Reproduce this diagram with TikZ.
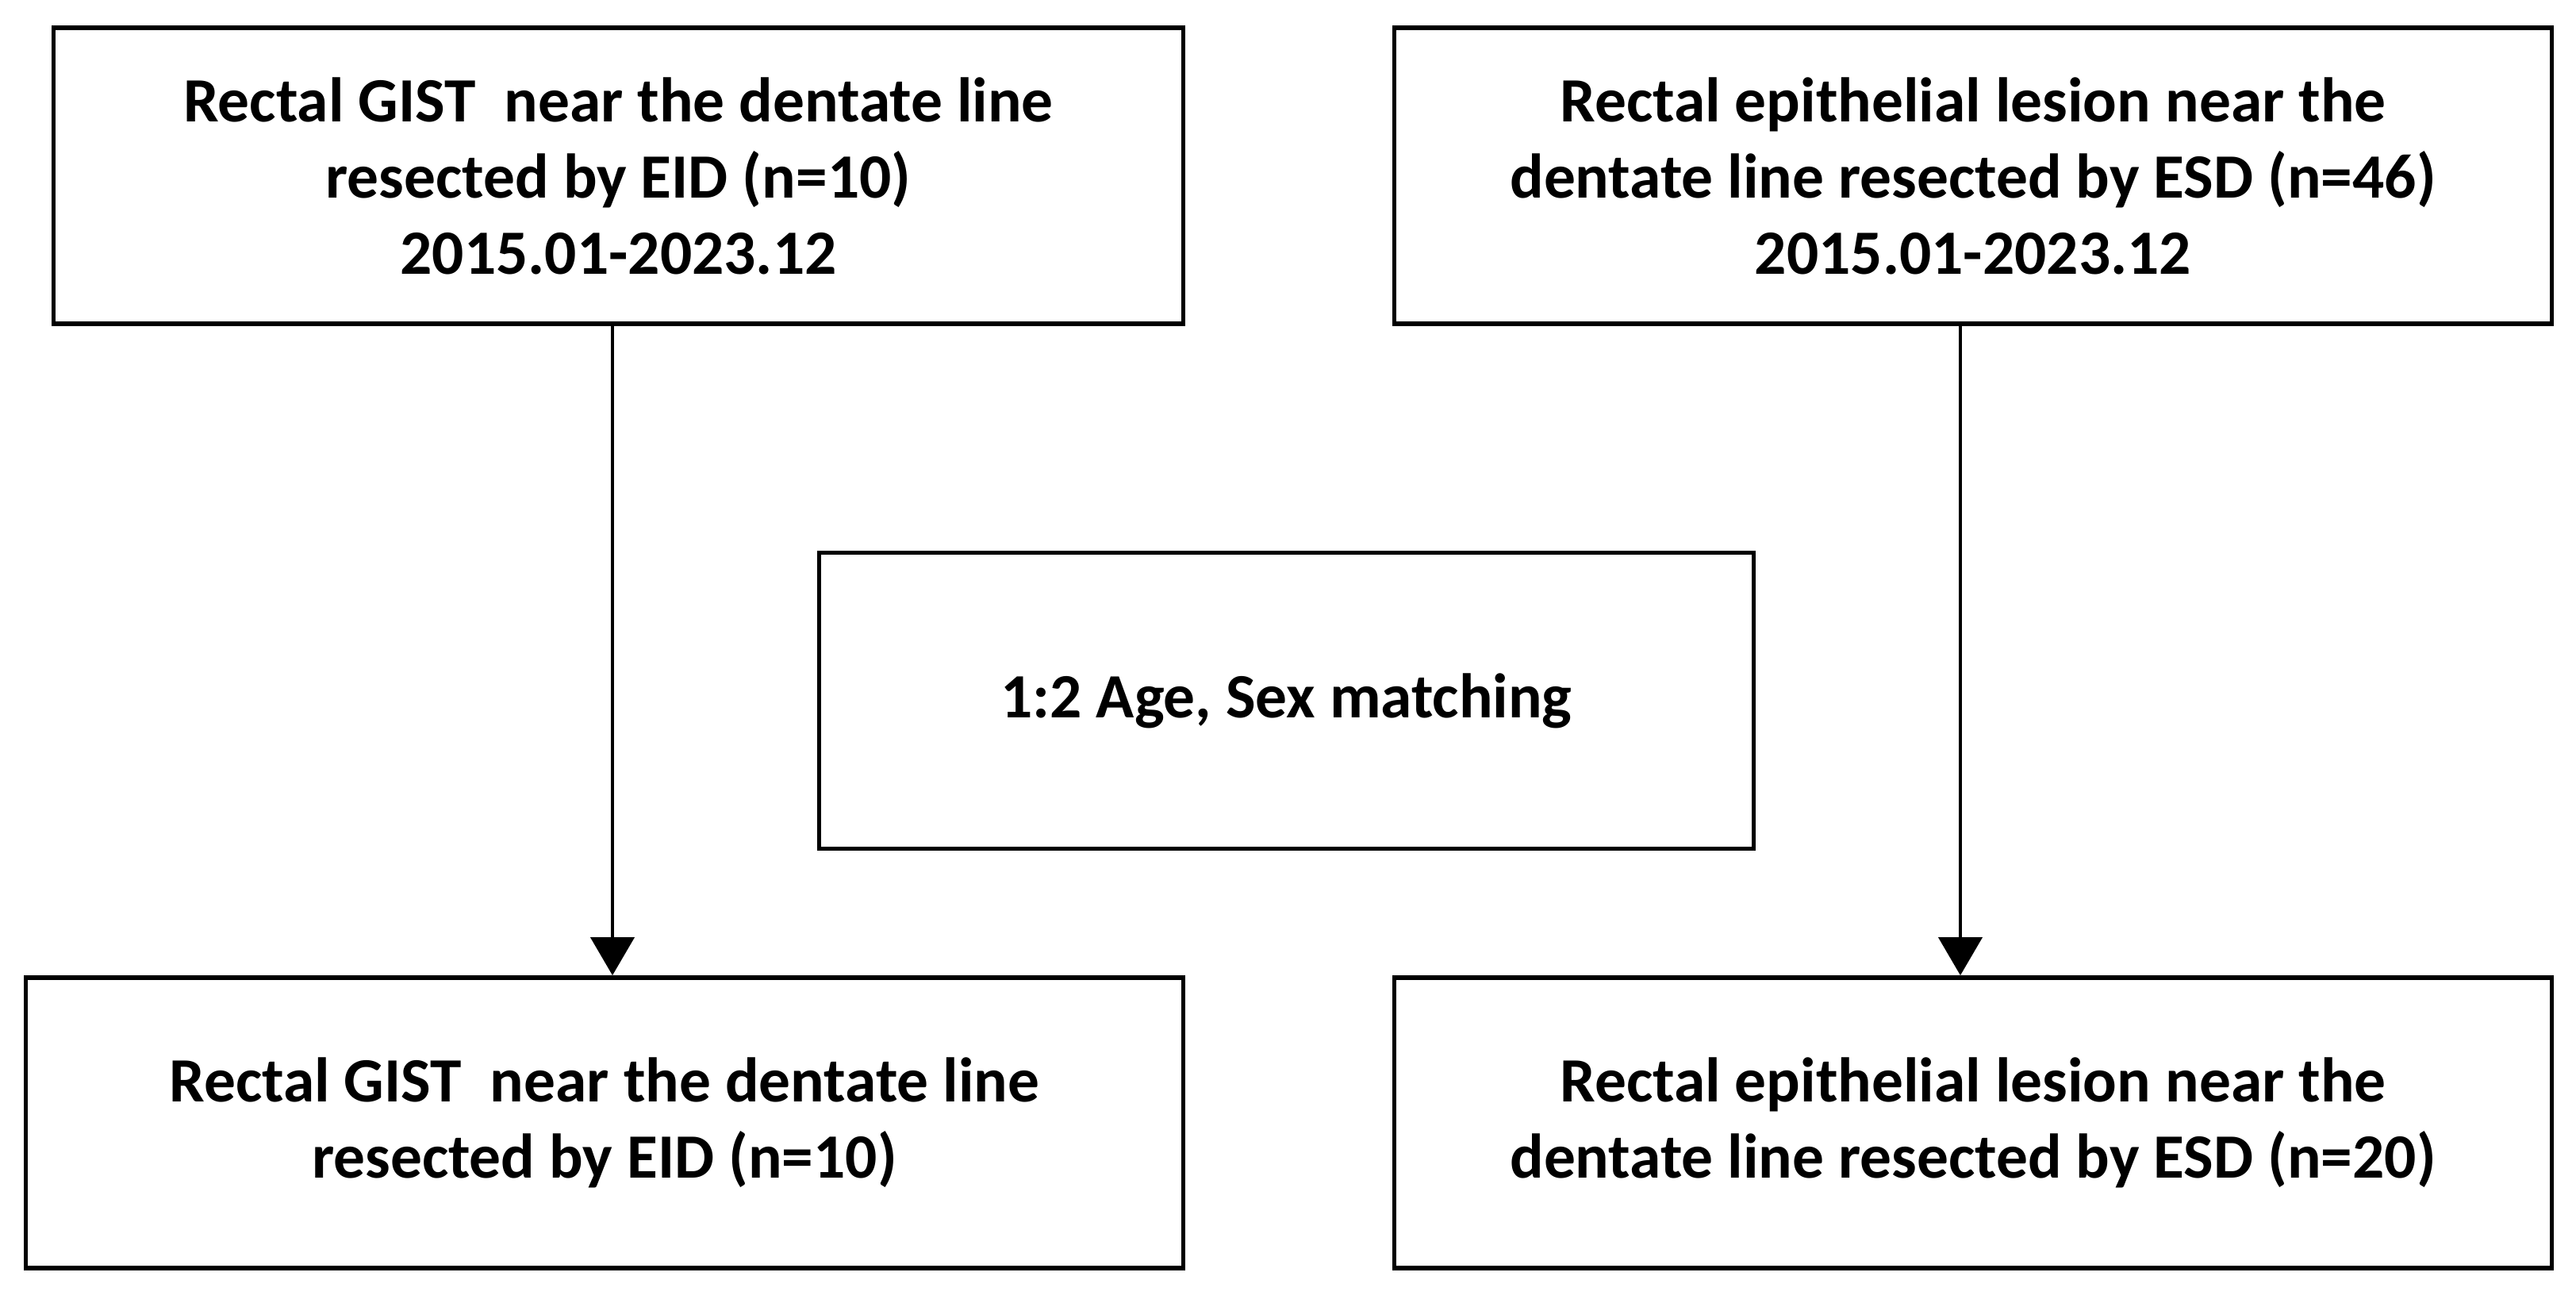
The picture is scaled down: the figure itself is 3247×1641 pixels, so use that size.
\documentclass[tikz,border=0pt]{standalone}
\usepackage{fontspec}
\setmainfont{Carlito}
\usetikzlibrary{arrows.meta}
\begin{document}
\begin{tikzpicture}[x=0.01cm,y=-0.01cm,
  flowbox/.style={draw=black,line width=1.6pt,fill=white,align=center,
    inner sep=0pt,font=\fontsize{22.6}{27.3}\selectfont\bfseries},
  flowarrow/.style={line width=1.2pt,-{Triangle[length=0.48cm,width=0.55cm]}}]
\useasboundingbox (0,0) rectangle (3247,1641);
\fill[white] (0,0) rectangle (3247,1641);
\node[flowbox,minimum width=14.23cm,minimum height=3.73cm] (tl) at (779.5,221.5)
  {Rectal GIST\ \ near the dentate line\\resected by EID (n=10)\\2015.01-2023.12};
\node[flowbox,minimum width=14.58cm,minimum height=3.73cm] (tr) at (2487,221.5)
  {Rectal epithelial lesion near the\\dentate line resected by ESD (n=46)\\2015.01-2023.12};
\node[flowbox,minimum width=11.77cm,minimum height=3.73cm] (mid) at (1621.5,883)
  {1:2 Age, Sex matching};
\node[flowbox,minimum width=14.58cm,minimum height=3.66cm] (bl) at (762,1415)
  {Rectal GIST\ \ near the dentate line\\resected by EID (n=10)};
\node[flowbox,minimum width=14.58cm,minimum height=3.66cm] (br) at (2487,1415)
  {Rectal epithelial lesion near the\\dentate line resected by ESD (n=20)};
\coordinate (la) at ([xshift=-0.075cm]tl.south);
\coordinate (ra) at ([xshift=-0.16cm]tr.south);
\draw[flowarrow] (la) -- (bl.north -| la);
\draw[flowarrow] (ra) -- (br.north -| ra);
\end{tikzpicture}
\end{document}
